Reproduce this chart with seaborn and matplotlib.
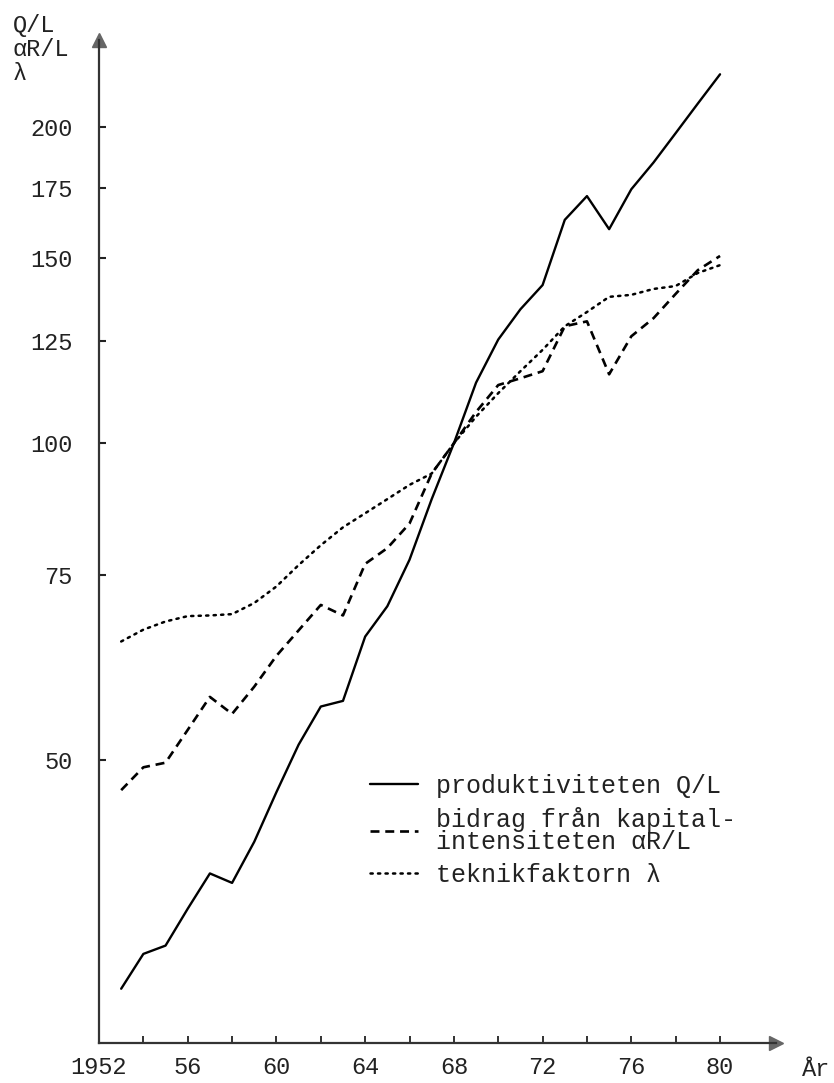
import seaborn as sns
import matplotlib.pyplot as plt
import matplotlib.ticker as mticker
import pandas as pd

# index values, 1968 = 100
years = [1953, 1954, 1955, 1956, 1957, 1958, 1959, 1960, 1961, 1962,
         1963, 1964, 1965, 1966, 1967, 1968, 1969, 1970, 1971, 1972,
         1973, 1974, 1975, 1976, 1977, 1978, 1979, 1980]
produktivitet = [30.3, 32.7, 33.3, 36.1, 39.0, 38.2, 41.8, 46.6, 51.7, 56.2,
                 56.9, 65.5, 70.0, 77.5, 88.5, 100.0, 114.2, 125.5, 134.1, 141.4,
                 163.1, 171.8, 159.8, 174.4, 184.9, 197.2, 210.4, 224.3]
kapital = [46.8, 49.2, 49.7, 53.4, 57.4, 55.3, 58.7, 62.8, 66.4, 70.2,
           68.6, 76.8, 79.5, 83.9, 93.6, 100.0, 107.1, 113.6, 115.3, 117.1,
           129.2, 130.6, 116.3, 126.4, 131.5, 138.7, 146.1, 150.7]
teknik = [64.8, 66.5, 67.7, 68.5, 68.6, 68.8, 70.5, 73.1, 76.6, 80.0,
          83.2, 85.8, 88.5, 91.3, 93.6, 100.0, 106.0, 111.6, 117.1, 122.7,
          129.2, 133.3, 137.8, 138.4, 140.2, 141.1, 145.2, 147.7]

labels = ["produktiviteten Q/L",
          "bidrag från kapital-\nintensiteten \u03b1R/L",
          "teknikfaktorn \u03bb"]
ytick_vals = [50, 75, 100, 125, 150, 175, 200]
xtick_major = [1952, 1956, 1960, 1964, 1968, 1972, 1976, 1980]
xtick_labels = ["1952", "56", "60", "64", "68", "72", "76", "80"]
xtick_minor = [1954, 1958, 1962, 1966, 1970, 1974, 1978]

df = pd.DataFrame({"year": years, "q": produktivitet, "k": kapital, "t": teknik})

sns.set_style("ticks")
plt.rcParams['font.family'] = ['Liberation Mono', 'DejaVu Sans Mono']

W, H = 834, 1083
fig = plt.figure(figsize=(W / 100, H / 100), dpi=100)
ax = fig.add_axes([99 / W, 1 - 1043 / H, (776 - 99) / W, (1043 - 40) / H])

sns.lineplot(data=df, x="year", y="q", ax=ax, color="black", linewidth=1.7,
             label=labels[0])
sns.lineplot(data=df, x="year", y="k", ax=ax, color="black", linewidth=1.9,
             linestyle=(0, (3.4, 2.2)), label=labels[1])
sns.lineplot(data=df, x="year", y="t", ax=ax, color="black", linewidth=1.8,
             linestyle=(0, (0.9, 2.1)), dash_capstyle="round", label=labels[2])

ax.set_yscale("log")
ax.set_xlim(1952, 1952 + (776 - 99) / 22.18)
ax.set_ylim(100 * 2.71828 ** (-(1043 - 443.3) / 456.8),
            100 * 2.71828 ** ((443.3 - 40) / 456.8))

ax.yaxis.set_major_locator(mticker.FixedLocator(ytick_vals))
ax.yaxis.set_major_formatter(mticker.FixedFormatter([str(v) for v in ytick_vals]))
ax.yaxis.set_minor_locator(mticker.NullLocator())
ax.set_xticks(xtick_major)
ax.set_xticklabels(xtick_labels)
ax.set_xticks(xtick_minor, minor=True)

ax.tick_params(axis="y", which="major", direction="in", length=5, width=1.5,
               pad=19, labelsize=17, colors="#222")
ax.tick_params(axis="x", which="both", direction="in", length=5, width=1.3,
               pad=9, labelsize=17, colors="#222")
ax.set_xlabel("")
ax.set_ylabel("")
sns.despine(ax=ax)
for s in ["left", "bottom"]:
    ax.spines[s].set_linewidth(1.6)
    ax.spines[s].set_color("#333")

# arrow heads on the axes
ax.plot([1], [0], marker=">", markersize=10, color="#666", transform=ax.transAxes,
        clip_on=False)
ax.plot([0], [1], marker="^", markersize=10, color="#666", transform=ax.transAxes,
        clip_on=False)

leg = ax.legend(loc="upper left", bbox_to_anchor=(370 / W, 1 - 774 / H),
                bbox_transform=fig.transFigure, frameon=False, fontsize=18,
                handlelength=1.9, handletextpad=0.75, labelspacing=0.35,
                borderpad=0, borderaxespad=0)
for t in leg.get_texts():
    t.set_linespacing(0.92)
    t.set_color("#222")

fig.text(13 / W, 1 - 14 / H, "Q/L\n\u03b1R/L\n\u03bb", ha="left", va="top",
         fontsize=17, linespacing=1.05, color="#222")
fig.text(816 / W, 1 - 1069 / H, "År", ha="center", va="center", fontsize=17,
         color="#222")

fig.savefig("out.png", dpi=100)
